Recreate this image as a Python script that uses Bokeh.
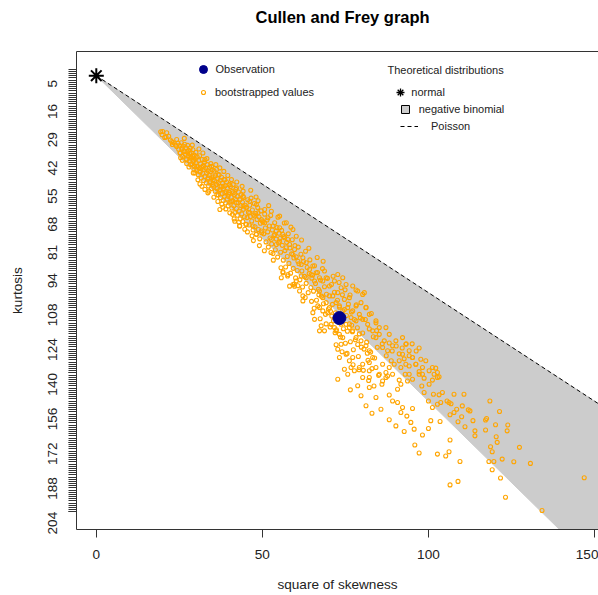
import math
from bokeh.plotting import figure
from bokeh.models import Range1d, FixedTicker, Legend, LegendItem, Label, LinearAxis
from bokeh.embed import file_html
from bokeh.resources import INLINE

FONT = "Liberation Sans"

# ---------------- data ----------------
kurtmax = 204
skew2_max = 149
kurt_ticks = [5, 16, 29, 42, 55, 68, 81, 94, 108, 124, 140, 156, 172, 188, 204]
kurt_minor = list(range(0, kurtmax + 1))
skew_ticks = [0, 50, 100, 150]

obs_skew2 = [73.2]
obs_kurt = [114.7]
normal_skew2 = [0]
normal_kurt = [3]
poisson_skew2 = [0, 160]
poisson_kurt = [3, 163]
negbin_skew2 = [0, 160, 160]
negbin_kurt = [3, 163, 243]

b1_s2 = [19.4, 20.6, 21.8, 22.3, 23.1, 23.9, 24.2, 24.6, 24.8, 22.9, 19.8, 21.2]
b1_k = [28.8, 31.5, 30.9, 32.6, 33.8, 35.0, 32.4, 34.1, 36.9, 34.7, 30.2, 29.3]

b2_s2 = [25.1, 25.3, 25.6, 25.8, 26.0, 26.2, 26.4, 26.6, 26.8, 27.0, 27.1, 27.3, 27.5, 27.6, 27.8, 28.0, 28.1, 28.3, 28.5, 28.6,
         28.8, 29.0, 29.1, 29.3, 29.5, 29.6, 29.8, 30.0, 25.9, 27.2, 28.9, 26.5, 29.4, 27.9, 25.4, 28.4]
b2_k = [35.2, 38.6, 33.9, 36.8, 40.1, 35.5, 37.9, 34.6, 39.3, 36.2, 41.4, 38.0, 35.1, 40.0, 37.4, 42.3, 39.0, 36.3, 41.0, 38.5,
        43.6, 40.2, 37.1, 42.0, 39.6, 44.8, 41.3, 38.4, 42.0, 43.5, 35.0, 31.9, 46.2, 45.1, 40.8, 44.0]

b3_s2 = [30.1, 30.2, 30.4, 30.5, 30.7, 30.8, 31.0, 31.1, 31.3, 31.4, 31.6, 31.7, 31.9, 32.0, 32.2, 32.3, 32.5, 32.6, 32.8, 32.9,
         33.1, 33.2, 33.4, 33.5, 33.7, 33.8, 34.0, 34.1, 34.3, 34.4, 34.6, 34.7, 34.9, 35.0, 30.6, 31.2, 32.1, 32.7, 33.3,
         33.9, 34.5, 30.9, 31.8, 33.6]
b3_k = [43.0, 46.7, 40.5, 44.9, 48.6, 42.1, 45.8, 39.9, 47.4, 43.7, 50.2, 45.1, 41.6, 48.0, 44.4, 51.3, 46.2, 42.8, 49.5, 45.5,
        52.4, 47.7, 44.0, 50.6, 46.9, 53.8, 48.9, 45.2, 51.8, 47.3, 55.0, 50.0, 46.4, 53.1, 51.0, 52.9, 38.6, 55.4, 41.2,
        56.2, 43.5, 36.8, 54.0, 57.0]

b4_s2 = [35.2, 35.3, 35.5, 35.6, 35.8, 35.9, 36.1, 36.2, 36.4, 36.5, 36.7, 36.8, 37.0, 37.1, 37.3, 37.4, 37.6, 37.7, 37.9, 38.0,
         38.2, 38.3, 38.5, 38.6, 38.8, 38.9, 39.1, 39.2, 39.4, 39.5, 39.7, 39.8, 40.0, 35.4, 36.0, 36.6, 37.2, 37.8,
         38.4, 39.0, 39.6, 36.3, 38.1]
b4_k = [49.6, 53.9, 47.0, 51.5, 56.2, 49.1, 53.0, 46.2, 55.1, 50.4, 58.0, 52.3, 48.7, 56.0, 51.2, 59.2, 54.0, 49.8, 57.3, 52.6,
        60.5, 55.0, 50.9, 58.6, 53.7, 61.7, 56.4, 52.0, 59.8, 54.9, 63.0, 57.6, 53.3, 59.0, 44.0, 61.0, 45.5, 62.2,
        47.1, 64.4, 49.0, 57.9, 63.6]

b5_s2 = [40.1, 40.3, 40.4, 40.6, 40.8, 40.9, 41.1, 41.2, 41.4, 41.6, 41.7, 41.9, 42.0, 42.2, 42.4, 42.5, 42.7, 42.8, 43.0, 43.2,
         43.3, 43.5, 43.6, 43.8, 44.0, 44.1, 44.3, 44.4, 44.6, 44.8, 45.0, 40.7, 41.5, 42.3, 43.1, 43.9, 44.7, 41.0, 42.9, 44.2]
b5_k = [56.8, 61.2, 54.1, 59.0, 64.0, 56.3, 60.7, 53.2, 62.9, 57.9, 66.1, 59.8, 55.4, 64.2, 58.7, 67.3, 61.5, 56.6, 65.4, 60.1,
        69.0, 62.8, 57.8, 66.7, 61.3, 70.2, 64.6, 59.1, 68.0, 62.7, 71.5, 50.9, 69.0, 52.0, 72.3, 54.0, 73.8, 66.9, 70.4, 56.2]

b6_s2 = [45.2, 45.4, 45.6, 45.8, 46.0, 46.2, 46.4, 46.6, 46.8, 47.0, 47.2, 47.4, 47.6, 47.8, 48.0, 48.2, 48.4, 48.6, 48.8, 49.0,
         49.2, 49.4, 49.6, 49.8, 50.0, 45.5, 46.5, 47.3, 48.1, 49.1, 46.9, 48.7]
b6_k = [63.5, 68.4, 60.2, 66.0, 71.8, 62.7, 67.9, 59.4, 70.0, 64.9, 74.1, 67.2, 61.9, 72.6, 66.5, 76.0, 69.3, 63.8, 73.9, 68.1,
        78.2, 71.0, 65.3, 75.4, 70.0, 75.0, 55.8, 79.0, 58.9, 81.3, 76.8, 60.6]

b7_s2 = [50.2, 50.4, 50.7, 50.9, 51.1, 51.4, 51.6, 51.8, 52.1, 52.3, 52.5, 52.8, 53.0, 53.2, 53.5, 53.7, 53.9, 54.2, 54.4, 54.6,
         54.9, 55.0, 50.6, 51.9, 53.3, 54.7, 52.6]
b7_k = [70.4, 75.9, 66.8, 73.2, 79.6, 69.5, 75.0, 82.0, 72.3, 77.8, 67.4, 80.6, 74.1, 85.0, 76.7, 70.8, 83.2, 78.3, 73.0, 86.6,
        80.1, 75.6, 83.7, 62.9, 88.0, 68.2, 84.5]

b8_s2 = [55.3, 55.5, 55.8, 56.0, 56.3, 56.5, 56.8, 57.0, 57.3, 57.5, 57.8, 58.0, 58.3, 58.5, 58.8, 59.0, 59.3, 59.5, 59.8, 60.0,
         55.6, 56.6, 57.6, 58.6, 59.6, 56.2]
b8_k = [78.0, 84.4, 74.3, 81.2, 88.0, 77.1, 83.6, 91.2, 79.8, 86.3, 75.9, 89.5, 82.4, 94.0, 85.1, 78.6, 91.8, 87.0, 81.3, 96.2,
        91.5, 70.9, 95.3, 72.8, 99.0, 93.4]

b9_s2 = [60.2, 60.5, 60.8, 61.0, 61.3, 61.6, 61.9, 62.1, 62.4, 62.7, 63.0, 63.2, 63.5, 63.8, 64.1, 64.3, 64.6, 64.9,
         60.7, 61.8, 62.9, 64.0, 64.8]
b9_k = [86.5, 92.8, 82.0, 89.7, 97.1, 85.3, 93.0, 100.4, 88.6, 95.5, 83.9, 98.7, 91.4, 103.0, 94.2, 87.9, 100.6, 96.3,
        99.8, 78.7, 105.2, 82.5, 107.0]

b10_s2 = [65.1, 65.4, 65.7, 66.0, 66.3, 66.6, 66.9, 67.2, 67.5, 67.8, 68.1, 68.4, 68.7, 69.0, 69.3, 69.6, 69.9,
          65.6, 66.5, 67.4, 68.3, 69.2, 67.0]
b10_k = [95.0, 102.3, 90.6, 98.8, 106.5, 93.7, 101.4, 109.8, 97.2, 104.6, 91.9, 108.1, 100.3, 113.0, 103.7, 96.4, 110.5,
         110.2, 86.8, 115.0, 88.5, 117.4, 104.0]

b11_s2 = [70.2, 70.5, 70.8, 71.1, 71.4, 71.7, 72.0, 72.3, 72.6, 72.9, 73.2, 73.5, 73.8, 74.1, 74.4, 74.7, 75.0,
          70.4, 71.3, 72.2, 73.1, 74.0, 74.9, 71.9, 73.7, 70.9]
b11_k = [104.5, 111.6, 99.2, 108.4, 116.0, 102.8, 112.3, 120.1, 106.5, 115.9, 109.7, 123.4, 113.2, 104.0, 119.6, 110.8, 126.3,
         118.8, 95.4, 127.0, 98.3, 130.2, 101.7, 121.5, 117.5, 113.8]

b12_s2 = [75.3, 75.6, 75.9, 76.2, 76.5, 76.8, 77.1, 77.4, 77.7, 78.0, 78.3, 78.6, 78.9, 79.2, 79.5, 79.8, 75.5, 76.4, 77.3, 78.2,
          79.1, 76.9, 78.7, 80.2, 80.6, 81.0, 81.4, 81.8, 82.2, 82.6, 83.0, 83.4, 83.8, 84.2, 84.6, 85.0, 80.4, 81.2,
          82.0, 82.8, 83.6, 84.4, 81.6]
b12_k = [113.5, 120.8, 108.3, 117.4, 125.6, 111.9, 121.0, 129.3, 115.4, 124.7, 108.6, 119.2, 132.4, 122.0, 114.6, 128.1, 131.0,
         104.1, 136.2, 101.8, 138.5, 118.0, 126.9, 121.6, 129.0, 115.4, 125.8, 134.2, 119.7, 130.4, 138.0, 123.3, 133.1,
         116.9, 128.2, 141.1, 138.8, 109.8, 143.5, 112.6, 146.0, 120.5, 130.9]

b13_s2 = [20.0, 21.0, 22.7, 24.2, 25.7, 25.2, 26.7, 28.2, 27.2, 29.2, 30.2, 29.7, 31.2, 32.2, 33.2, 33.7, 34.2, 35.2, 36.2, 37.2,
          38.2, 38.7, 39.7, 41.2, 40.7, 42.2, 43.2, 44.2, 45.2, 46.2, 47.7, 48.7, 49.7, 50.7, 51.7, 53.2, 54.2, 55.2, 56.2, 57.7,
          49.7, 48.2, 47.2, 45.2, 43.2, 41.7, 40.2, 37.2, 29.2, 32.7, 34.7, 36.7, 38.7, 40.2, 42.2, 44.2, 46.2, 48.2, 50.7, 52.7,
          55.2, 57.2, 59.2, 60.2]
b13_k = [28.7, 31.3, 33.3, 35.6, 36.3, 38.6, 37.9, 40.2, 41.7, 42.5, 44.8, 47.8, 47.1, 44.8, 47.8, 50.1, 52.4, 50.9, 53.2, 55.5,
         54.0, 57.0, 58.6, 57.0, 60.9, 61.6, 60.1, 63.2, 63.9, 66.2, 67.7, 66.2, 69.3, 70.8, 68.5, 72.3, 74.6, 73.1, 76.2, 78.5,
         74.6, 76.2, 72.3, 71.6, 72.3, 70.1, 66.2, 64.7, 47.8, 41.7, 44.8, 48.6, 50.9, 53.2, 54.7, 58.6, 60.9, 62.4, 64.7, 65.5,
         67.7, 70.8, 73.9, 77.0]

b14_s2 = [52.7, 53.7, 54.2, 55.2, 56.7, 57.2, 58.2, 59.2, 59.7, 60.7, 61.7, 62.2, 63.2, 64.2, 65.2, 64.7, 66.2, 67.2, 68.2, 65.7,
          63.2, 61.7, 60.2, 59.2, 58.2, 56.2, 55.7, 57.7, 59.7, 61.2, 62.2, 62.2, 67.2, 68.2, 69.2, 70.2, 69.7, 68.2, 66.7, 65.2,
          65.7, 67.7, 67.2, 68.7, 70.7, 71.7, 72.2, 73.2, 74.2, 73.7, 72.7, 73.2, 75.2, 76.2, 77.2, 76.7, 74.7, 75.7, 77.7, 79.2,
          80.2, 82.2, 83.2, 82.2, 81.2, 79.7, 78.2, 77.2, 76.2, 75.2, 76.7, 78.2, 79.2, 80.2, 81.7, 83.2, 84.2, 85.2, 86.7, 86.2,
          87.7, 89.2, 90.2, 88.2, 87.2, 85.2, 84.2, 82.2, 81.2, 79.7, 78.2, 77.2, 75.7, 74.2, 73.2, 72.2, 71.2, 72.7, 73.7, 75.2,
          77.2, 78.7, 80.2, 80.7, 76.2, 74.7, 70.2, 69.2, 71.7, 72.7, 74.2, 68.7, 92.2, 93.2, 94.2, 92.2, 91.2, 93.2, 95.2, 96.2,
          98.2, 99.2, 100.2, 101.7, 102.7, 97.2, 94.2, 91.7, 89.7, 88.2, 86.2, 84.2, 82.2, 85.2, 87.2, 89.2, 80.2, 82.2]
b14_k = [78.5, 76.2, 80.8, 79.3, 77.7, 82.3, 80.8, 85.4, 83.1, 88.5, 90.0, 86.9, 89.2, 92.3, 90.7, 94.6, 93.8, 96.1, 97.6, 97.6,
         96.1, 95.3, 97.6, 99.2, 100.0, 93.8, 96.1, 94.6, 100.0, 102.2, 104.5, 106.8, 102.2, 105.3, 107.6, 109.9, 112.2, 111.4, 109.1, 112.2,
         115.3, 118.3, 120.6, 120.6, 117.6, 119.1, 120.6, 122.2, 123.7, 126.8, 129.1, 132.9, 131.4, 134.4, 132.9, 137.5, 138.3, 140.6, 139.0, 137.5,
         136.0, 135.2, 132.9, 129.8, 127.5, 125.2, 123.7, 120.6, 119.1, 117.6, 114.5, 116.0, 113.0, 115.3, 117.6, 120.6, 123.7, 122.2, 125.2, 128.3,
         129.8, 127.5, 125.2, 122.2, 119.1, 119.1, 116.0, 113.0, 109.9, 107.6, 109.1, 111.4, 109.9, 111.4, 109.1, 107.6, 104.5, 103.0, 100.7, 99.2,
         99.9, 102.2, 103.8, 103.0, 105.3, 106.1, 99.9, 96.1, 97.6, 94.6, 96.1, 93.0, 123.7, 126.8, 129.8, 131.4, 134.4, 136.0, 132.9, 136.0,
         137.5, 134.4, 139.0, 140.6, 142.1, 140.6, 140.6, 137.5, 136.0, 137.5, 136.0, 137.5, 139.0, 140.6, 142.1, 140.6, 142.1, 142.1]

b15_s2 = [85.7, 88.2, 90.2, 92.7, 95.7, 94.7, 93.5, 91.7, 92.2, 95.2, 89.2, 88.2, 90.7, 86.0, 90.7, 100.7, 103.5, 100.0, 98.2, 95.9,
          97.2, 102.7, 105.2, 106.2, 106.5, 109.5, 106.5, 108.9, 123.2, 134.2, 146.9, 130.7, 125.7, 122.2, 119.7, 118.2, 119.2, 121.7, 119.2, 127.4,
          118.7, 120.7, 120.4, 123.7, 123.9, 120.2, 117.2, 114.0, 114.0, 117.2, 117.5, 113.4, 111.0, 108.9, 110.0, 107.7, 106.5, 108.5, 112.0, 112.5,
          110.2, 121.4, 118.5, 106.2, 105.6, 106.8, 103.7, 102.7, 103.2, 104.2, 107.7, 110.7, 101.5, 100.0, 101.2, 98.7, 98.0, 100.2, 101.2, 103.2,
          102.7, 101.2, 102.2, 98.2, 98.7, 97.2, 95.2, 96.2, 95.2, 97.7, 94.2, 93.0, 93.7, 91.2, 91.7, 87.2, 87.7, 86.2, 86.1, 88.2,
          90.3, 92.1, 93.3, 89.1, 91.2, 87.3, 88.8, 92.7, 94.2, 96.3, 97.2, 95.1]
b15_k = [156.7, 161.6, 164.4, 167.0, 165.9, 162.8, 159.9, 158.2, 155.9, 156.4, 152.9, 150.2, 153.6, 145.2, 147.5, 162.0, 162.4, 165.6, 168.6, 173.2,
         176.9, 177.4, 178.3, 176.3, 170.9, 180.8, 191.6, 190.0, 197.3, 203.4, 188.3, 181.7, 180.9, 179.7, 180.8, 180.8, 176.3, 188.4, 184.6, 174.3,
         174.0, 172.0, 169.4, 166.7, 164.0, 163.9, 166.3, 169.0, 166.7, 161.7, 161.0, 162.0, 164.8, 162.5, 160.2, 158.2, 159.3, 156.7, 157.0, 157.5,
         155.2, 157.8, 152.9, 153.6, 152.9, 154.2, 153.6, 154.4, 150.1, 149.0, 149.8, 149.8, 149.8, 152.9, 155.9, 149.0, 146.0, 145.2, 143.3, 141.8,
         139.8, 137.5, 137.8, 140.6, 142.4, 139.4, 142.9, 136.0, 132.9, 133.7, 136.8, 140.6, 143.7, 143.3, 145.2, 139.8, 141.4, 143.7, 126.6, 126.2,
         127.6, 128.5, 126.6, 129.9, 131.2, 132.1, 134.4, 133.5, 132.1, 129.9, 128.5, 126.6]

b16_s2 = [72.7, 79.7, 82.2, 84.2, 78.7, 81.2, 76.5, 83.0]
b16_k = [142.9, 150.5, 146.7, 151.3, 145.9, 155.1, 147.8, 158.6]

boot_s2_parts = [b1_s2, b2_s2, b3_s2, b4_s2, b5_s2, b6_s2, b7_s2, b8_s2, b9_s2, b10_s2, b11_s2, b12_s2, b13_s2, b14_s2, b15_s2, b16_s2]
boot_k_parts = [b1_k, b2_k, b3_k, b4_k, b5_k, b6_k, b7_k, b8_k, b9_k, b10_k, b11_k, b12_k, b13_k, b14_k, b15_k, b16_k]
boot_skew2, boot_kurt = [], []
for a, b in zip(boot_s2_parts, boot_k_parts):
    n = min(len(a), len(b))
    boot_skew2 += a[:n]
    boot_kurt += b[:n]

# ---------------- figure ----------------
W, H = 598, 595
FR_LEFT, FR_TOP, FR_BOTTOM = 76, 50, 529
y_top = -0.04 * kurtmax
y_bottom = 1.04 * kurtmax

p = figure(width=W, height=H, output_backend="svg", toolbar_location=None,
           x_range=Range1d(-0.04 * skew2_max, 151.2), y_range=Range1d(y_bottom, y_top),
           min_border_left=FR_LEFT, min_border_right=0, min_border_top=FR_TOP,
           min_border_bottom=H - FR_BOTTOM,
           background_fill_color="white", border_fill_color="white")
p.outline_line_color = None
p.grid.visible = False

AX = "#333333"
TXT = "#222222"

xa = p.below[0]
ya = p.left[0]

for ax in (xa, ya):
    ax.axis_line_color = AX
    ax.major_tick_line_color = AX
    ax.minor_tick_line_color = AX
    ax.major_tick_out = 8
    ax.major_tick_in = 0
    ax.minor_tick_out = 8
    ax.minor_tick_in = 0
    ax.major_label_text_font = FONT
    ax.major_label_text_font_size = "13.6px"
    ax.major_label_text_color = TXT
    ax.axis_label_text_font = FONT
    ax.axis_label_text_font_size = "13.6px"
    ax.axis_label_text_font_style = "normal"
    ax.axis_label_text_color = TXT

xa.ticker = FixedTicker(ticks=skew_ticks)
xa.minor_tick_line_color = None
xa.axis_label = "square of skewness"
xa.major_label_standoff = 12
xa.axis_label_standoff = 15

ya.ticker = FixedTicker(ticks=kurt_ticks, minor_ticks=kurt_minor)
ya.axis_label = "kurtosis"
ya.major_label_orientation = math.pi / 2
ya.major_label_standoff = 16
ya.axis_label_standoff = 16

# top frame line: an empty axis above the plot (also spaces the title upward)
top_axis = LinearAxis(ticker=FixedTicker(ticks=[]), axis_line_color=AX,
                      major_tick_line_color=None, minor_tick_line_color=None,
                      major_tick_out=0, major_tick_in=0, minor_tick_out=0, minor_tick_in=0,
                      major_label_text_font_size="0px",
                      axis_label=" ", axis_label_standoff=17,
                      axis_label_text_font_size="1px")
p.add_layout(top_axis, "above")

p.title.text = "Cullen and Frey graph"
p.title.align = "left"
p.title.offset = 179
p.title.standoff = 10
p.title.text_font = FONT
p.title.text_font_size = "16.5px"
p.title.text_font_style = "bold"
p.title.text_color = "black"

# glyphs
nb = p.patch(negbin_skew2, negbin_kurt, fill_color="#cccccc", line_color="#cccccc")
pois = p.line(poisson_skew2, poisson_kurt, line_color="black", line_width=1, line_dash="4 3")
boot = p.scatter(boot_skew2, boot_kurt, marker="circle", size=4, fill_color=None,
                 line_color="orange", line_width=1.1)
obs = p.scatter(obs_skew2, obs_kurt, marker="circle", size=13, fill_color="#00008B", line_color="#00008B")
norm = p.scatter(normal_skew2, normal_kurt, marker="asterisk", size=15, line_color="black", line_width=2)

# legend keys (hidden renderers, used only for the legend swatches)
norm_key = p.scatter(normal_skew2, normal_kurt, marker="asterisk", size=8, line_color="black",
                     line_width=1.3, visible=False)
nb_key = p.scatter(normal_skew2, normal_kurt, marker="square", size=8, fill_color="#cccccc",
                   line_color="black", line_width=1, visible=False)


def one_legend(label, rend, left, cy, gw, standoff):
    lg = Legend(items=[LegendItem(label=label, renderers=[rend])],
                location=(left - FR_LEFT, FR_BOTTOM - (cy + 10)),
                orientation="vertical", padding=0, margin=0, spacing=0,
                glyph_width=gw, glyph_height=20, label_height=20, label_width=10,
                label_standoff=standoff, border_line_color=None,
                background_fill_alpha=0, inactive_fill_alpha=0, label_text_font=FONT,
                label_text_font_size="11px", label_text_color=TXT)
    p.add_layout(lg)


one_legend("Observation", obs, 192.5, 69, 20, 3)
one_legend("bootstrapped values", boot, 198, 91.5, 10, 7)
one_legend("normal", norm_key, 390.3, 91.7, 20, 1)
one_legend("negative binomial", nb_key, 394.7, 109.3, 20, 4)
one_legend("Poisson", pois, 400, 126.3, 18, 13)

p.add_layout(Label(x=387 - FR_LEFT, y=FR_BOTTOM - 69, x_units="screen", y_units="screen",
                   text="Theoretical distributions", text_font=FONT, text_font_size="11px",
                   text_color=TXT, text_baseline="middle", text_align="left"))

open("out.html", "w").write(file_html(p, INLINE))
